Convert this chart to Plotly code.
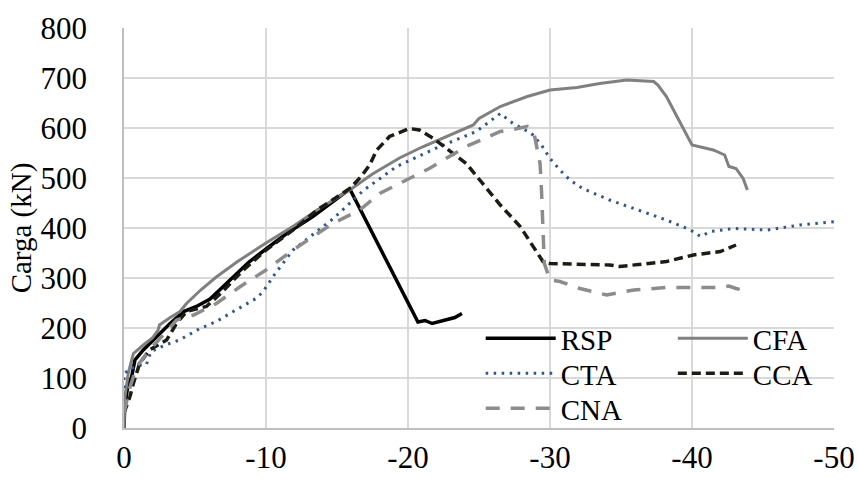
import plotly.graph_objects as go

# Load-displacement curves (displacement in mm, negative = compression; load in kN)
rsp_x = [0, -0.05, -0.25, -0.54, -0.77, -1.36, -2.07, -2.65, -3.24, -4.2, -5.1, -6.06, -6.8, -7.7,
         -8.8, -10, -11.5, -13.3, -14.6, -15.9, -20.7, -21.2, -21.7, -22.6, -23.3, -23.8]
rsp_y = [0, 43, 80, 103, 136, 156, 176, 193, 209, 233, 243, 258, 278, 303,
         332, 358, 390, 423, 450, 478, 212, 215, 209, 216, 221, 229]

cfa_x = [0, -0.03, -0.07, -0.3, -0.66, -1.36, -2.0, -2.4, -2.5, -3.2, -3.94, -4.4, -5.4, -6.5, -8,
         -10, -12, -13.6, -16, -17.5, -19.4, -21, -23, -24.6, -25, -26.5, -28.4, -30, -31.9,
         -33.5, -35.4, -37.3, -37.6, -38.2, -39.2, -40, -41.5, -42.3, -42.6, -43.1, -43.6, -43.9]
cfa_y = [0, 40, 63, 110, 149, 166, 180, 196, 206, 220, 233, 249, 276, 302, 333,
         370, 405, 436, 478, 508, 540, 562, 587, 606, 619, 643, 663, 676, 681,
         689, 696, 693, 686, 663, 609, 566, 556, 546, 523, 519, 499, 476]

cta_x = [0, 0, -0.5, -1.1, -1.57, -1.9, -2.9, -3.9, -5.35, -6.5, -7.7, -9.3, -9.8, -10.5, -11.9,
         -13.1, -14.7, -16.9, -19.2, -22, -24.8, -26.5, -27.4, -28.7, -29.4, -30, -30.7, -31.4,
         -32.3, -34.2, -35.9, -38.2, -39.9, -40.6, -41.3, -42.9, -45.3, -47.6, -50.1]
cta_y = [80, 109, 119, 126, 126, 153, 166, 176, 199, 213, 233, 259, 273, 303, 356,
         383, 418, 476, 523, 560, 593, 629, 609, 589, 566, 539, 516, 496,
         479, 456, 439, 416, 396, 383, 393, 399, 396, 406, 413]

cca_x = [0, -0.42, -0.66, -1.1, -1.8, -3.0, -3.7, -4.4, -5.8, -6.8, -8.4, -10, -12, -13.6, -15.9,
         -16.7, -17.3, -17.8, -18.7, -19.4, -20.1, -20.8, -21.8, -24.1, -26.5, -27.9, -28.8,
         -29.5, -30, -32.3, -34.2, -34.9, -38.2, -40.1, -42, -43.1]
cca_y = [30, 63, 89, 129, 156, 176, 209, 233, 243, 269, 316, 356, 398, 436, 479,
         503, 526, 556, 583, 591, 599, 596, 579, 529, 446, 403, 363,
         333, 329, 328, 326, 323, 333, 346, 353, 366]

cna_x = [0, -0.4, -0.9, -1.8, -3.7, -4.9, -6.5, -8.2, -10, -11.9, -14.7, -16.6, -18, -19.7,
         -21.5, -24.1, -26.5, -27.2, -28.4, -28.9, -29.3, -29.4, -29.5, -29.6, -30, -30.7,
         -32.1, -34, -35.9, -38.2, -40.1, -42, -42.6, -43.1, -44]
cna_y = [30, 80, 123, 156, 216, 226, 249, 283, 316, 356, 409, 436, 469, 493,
         519, 563, 593, 596, 603, 586, 529, 476, 409, 329, 296, 293,
         279, 266, 276, 281, 281, 281, 284, 279, 273]

x_ticks = [0, -10, -20, -30, -40, -50]
y_ticks = [0, 100, 200, 300, 400, 500, 600, 700, 800]

FONT = "Times New Roman, Liberation Serif, serif"

series = [
    # name, x, y, color, width, dash, legend box
    ("RSP", rsp_x, rsp_y, "#000000", 3.5, "solid", "legend"),
    ("CFA", cfa_x, cfa_y, "#808080", 3.0, "solid", "legend2"),
    ("CTA", cta_x, cta_y, "#2f5597", 3.0, "2.5px,5.5px", "legend3"),
    ("CCA", cca_x, cca_y, "#1c1c14", 3.5, "9px,5px", "legend4"),
    ("CNA", cna_x, cna_y, "#8c8c8c", 3.5, "14px,11px", "legend5"),
]

fig = go.Figure()
for name, xs, ys, color, width, dash, leg in series:
    fig.add_trace(go.Scatter(
        x=xs, y=ys, name=name, mode="lines",
        line=dict(color=color, width=width, dash=dash),
        legend=leg,
    ))

legend_common = dict(
    orientation="v",
    bgcolor="rgba(0,0,0,0)",
    font=dict(family=FONT, size=29, color="#000000"),
    itemwidth=70,
    xanchor="left", yanchor="top",
)

# two-column legend grid: left column RSP/CTA/CNA, right column CFA/CCA
col_x = [0.5024, 0.773]
row_y = [0.2875, 0.2, 0.1125]

fig.update_layout(
    width=858, height=478,
    margin=dict(l=124, r=24, t=28, b=50),
    paper_bgcolor="#ffffff",
    plot_bgcolor="#ffffff",
    font=dict(family=FONT, size=29, color="#000000"),
    showlegend=True,
    legend=dict(x=col_x[0], y=row_y[0], **legend_common),
    legend2=dict(x=col_x[1], y=row_y[0], **legend_common),
    legend3=dict(x=col_x[0], y=row_y[1], **legend_common),
    legend4=dict(x=col_x[1], y=row_y[1], **legend_common),
    legend5=dict(x=col_x[0], y=row_y[2], **legend_common),
    xaxis=dict(
        range=[0, -50],
        tickvals=x_ticks,
        ticktext=[str(v) for v in x_ticks],
        showgrid=True, gridcolor="#d9d9d9", gridwidth=1.5,
        zeroline=False,
        showline=True, linecolor="#bfbfbf", linewidth=1.5,
        ticks="outside", ticklen=1, tickcolor="rgba(0,0,0,0)",
        tickfont=dict(family=FONT, size=31),
        automargin=False,
    ),
    yaxis=dict(
        range=[0, 800],
        tickvals=y_ticks,
        showgrid=True, gridcolor="#d9d9d9", gridwidth=1.5,
        zeroline=False,
        showline=True, linecolor="#bfbfbf", linewidth=1.5,
        ticks="outside", ticklen=29, tickcolor="rgba(0,0,0,0)",
        tickfont=dict(family=FONT, size=31),
        title=dict(text="Carga (kN)", font=dict(family=FONT, size=29), standoff=0),
        automargin=False,
    ),
)

fig.write_html("out.html")
